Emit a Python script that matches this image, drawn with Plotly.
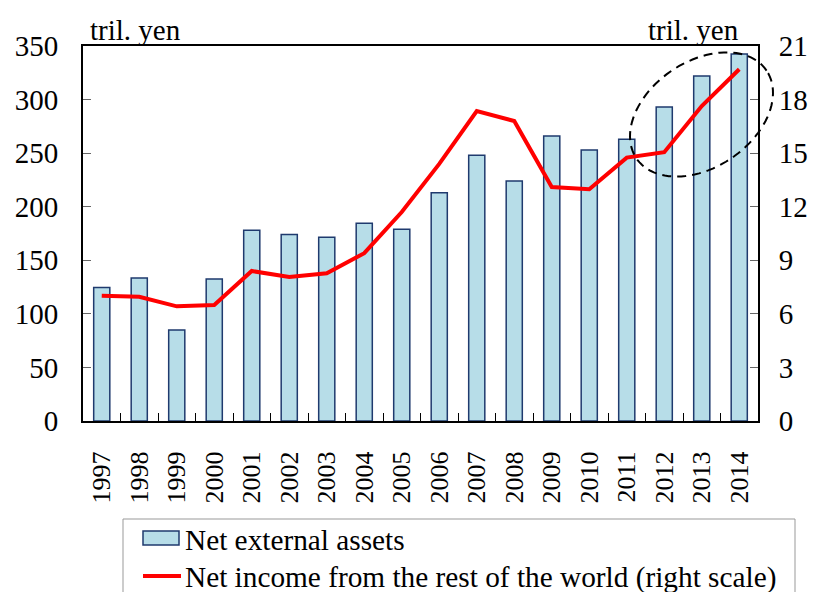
import numpy as np
import plotly.graph_objects as go

years = [str(y) for y in range(1997, 2015)]
net_external_assets = [124.5, 133.5, 85, 132.5, 178, 174, 171.5, 184.5, 179, 213, 248, 224, 266, 253, 263, 293, 322, 342.5]
net_income = [7.02, 6.96, 6.42, 6.5, 8.4, 8.06, 8.27, 9.4, 11.7, 14.4, 17.36, 16.8, 13.1, 12.98, 14.75, 15.05, 17.64, 19.7]
bar_name = "Net external assets"
line_name = "Net income from the rest of the world (right scale)"

FONT = "Liberation Serif"
BAR_FILL, BAR_EDGE, LINE_COL = "#b7dde8", "#1f3a6e", "#ff0000"
OFF = 8  # page body margin
W, H = 816, 592
# target plot box in page pixels: x 83..758, y 46..421
L, T = 83 - OFF, 46 - OFF
R, B = W - (758 - OFF), H - (421 - OFF)
PW, PH = W - L - R, H - T - B
X0, Y1 = 83, 421


def px2paper(x, y):
    return (x - X0) / PW, (Y1 - y) / PH


fig = go.Figure()
fig.add_trace(go.Bar(
    x=years, y=net_external_assets, name=bar_name, showlegend=False,
    marker=dict(color=BAR_FILL, line=dict(color=BAR_EDGE, width=1.5)),
    yaxis="y"))
fig.add_trace(go.Scatter(
    x=years, y=net_income, name=line_name, showlegend=False,
    mode="lines", line=dict(color=LINE_COL, width=4), yaxis="y2"))

# dashed ellipse (pixel space -> paper)
cx, cy, a, b, th = 701.5, 114.5, 78.5, 53.0, np.deg2rad(34.0)
t = np.linspace(0, 2 * np.pi, 100)
xs = cx + a * np.cos(t) * np.cos(th) - b * np.sin(t) * np.sin(th)
ys = cy - (a * np.cos(t) * np.sin(th) + b * np.sin(t) * np.cos(th))
pts = [px2paper(u, v) for u, v in zip(xs, ys)]
path = "M " + " L ".join(f"{u:.4f},{v:.4f}" for u, v in pts) + " Z"

shapes = [dict(type="path", path=path, xref="paper", yref="paper",
               line=dict(color="black", width=2, dash="9px,6px"))]

# legend drawn manually
bx0, by0 = px2paper(123, 519)
bx1, by1 = px2paper(795, 598)
shapes.append(dict(type="rect", xref="paper", yref="paper", x0=bx0, y0=by0, x1=bx1, y1=by1,
                   line=dict(color="#999999", width=1), fillcolor="white", layer="below"))
sx0, sy0 = px2paper(143, 531)
sx1, sy1 = px2paper(179, 545)
shapes.append(dict(type="rect", xref="paper", yref="paper", x0=sx0, y0=sy0, x1=sx1, y1=sy1,
                   line=dict(color=BAR_EDGE, width=1.5), fillcolor=BAR_FILL))
lx0, ly0 = px2paper(143, 576)
lx1, _ = px2paper(181, 576)
shapes.append(dict(type="line", xref="paper", yref="paper", x0=lx0, y0=ly0, x1=lx1, y1=ly0,
                   line=dict(color=LINE_COL, width=4)))

tx, t1y = px2paper(183, 539.5)
_, t2y = px2paper(183, 577)
ax1, _ = px2paper(88, 0)
ax2, _ = px2paper(741, 0)

fig.update_layout(
    width=W, height=H,
    margin=dict(l=L, r=R, t=T, b=B, autoexpand=False),
    paper_bgcolor="white", plot_bgcolor="white",
    font=dict(family=FONT, size=28, color="black"),
    bargap=0.57,
    showlegend=False,
    xaxis=dict(
        type="category", showline=True, linecolor="black", linewidth=2, mirror=True,
        ticks="inside", tickson="boundaries", ticklen=8, tickcolor="black",
        tickangle=-90, tickfont=dict(size=26), showgrid=False, ticklabelstandoff=18),
    yaxis=dict(
        range=[0, 350], dtick=50, showline=True, linecolor="black", linewidth=2,
        ticks="inside", ticklen=8, tickcolor="#666666", showgrid=False,
        tickfont=dict(size=29), zeroline=False, ticklabelstandoff=17),
    yaxis2=dict(
        range=[0, 21], dtick=3, overlaying="y", side="right", showline=True,
        linecolor="black", linewidth=2, ticks="inside", ticklen=8, tickcolor="#666666",
        showgrid=False, tickfont=dict(size=29), zeroline=False, ticklabelstandoff=13),
    shapes=shapes,
    annotations=[
        dict(text="tril. yen", xref="paper", yref="paper", x=ax1, y=1.0,
             xanchor="left", yanchor="bottom", showarrow=False, font=dict(size=29), yshift=-2),
        dict(text="tril. yen", xref="paper", yref="paper", x=ax2, y=1.0,
             xanchor="right", yanchor="bottom", showarrow=False, font=dict(size=29), yshift=-2),
        dict(text=bar_name, xref="paper", yref="paper", x=tx, y=t1y,
             xanchor="left", yanchor="middle", showarrow=False, font=dict(size=29.3)),
        dict(text=line_name, xref="paper", yref="paper", x=tx, y=t2y,
             xanchor="left", yanchor="middle", showarrow=False, font=dict(size=29.3)),
    ],
)

fig.write_html("out.html")
